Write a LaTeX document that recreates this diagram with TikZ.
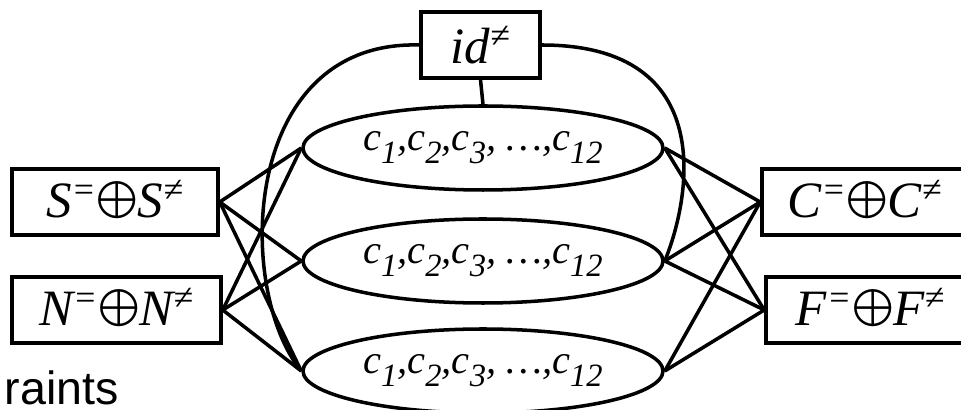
\documentclass[tikz,border=0pt]{standalone}
\usepackage{fontspec}
\setmainfont{Liberation Serif}
\newfontfamily\labelsans{Liberation Sans}
\usepackage{tikz}
\usetikzlibrary{shapes,positioning,calc}

% subscript of the c variables
\newcommand{\csub}[1]{c\raisebox{-0.32em}{\fontsize{18.5pt}{18.5pt}\selectfont #1}}
% large circled plus between the two parts
\newcommand{\dsum}{\raisebox{-0.12em}{\resizebox{!}{0.82em}{$\bigoplus$}}}

\begin{document}
\begin{tikzpicture}[
    setbox/.style={rectangle, draw, line width=2pt, inner sep=0pt, minimum height=1.32cm, font=\fontsize{29pt}{30pt}\selectfont\itshape},
    clist/.style={ellipse, draw, line width=2pt, inner sep=0pt, minimum width=7.2cm, minimum height=1.68cm, font=\fontsize{23pt}{24pt}\selectfont\itshape},
    link/.style={line width=2pt}
]
\useasboundingbox (0,0) rectangle (19.22,8.2);

% Id box
\node[setbox, minimum width=2.38cm] (idbox) at (9.61, 7.30) {id\textsuperscript{≠}};

% Ellipses
\node[clist] (ellTop) at (9.66, 5.24) {\csub{1},\csub{2},\csub{3}, …,\csub{12}};
\node[clist] (ellMid) at (9.66, 2.98) {\csub{1},\csub{2},\csub{3}, …,\csub{12}};
\node[clist] (ellBot) at (9.66, 0.78) {\csub{1},\csub{2},\csub{3}, …,\csub{12}};

% Left boxes
\node[setbox, minimum width=4.12cm] (sBox) at (2.30, 4.16) {S\textsuperscript{=}\dsum S\textsuperscript{≠}};
\node[setbox, minimum width=4.18cm] (nBox) at (2.33, 2.00) {N\textsuperscript{=}\dsum N\textsuperscript{≠}};

% Right boxes
\node[setbox, minimum width=4.12cm] (cBox) at (17.30, 4.16) {C\textsuperscript{=}\dsum C\textsuperscript{≠}};
\node[setbox, minimum width=4.18cm] (fBox) at (17.41, 2.00) {F\textsuperscript{=}\dsum F\textsuperscript{≠}};

% Cut-off caption
\node[anchor=base east, inner sep=0pt, font=\labelsans\fontsize{26.5pt}{27pt}\selectfont] (lblRaints) at (2.38, 0.10) {raints};

% Id links
\draw[link] (idbox.south) -- (ellTop.north);
\draw[link] (idbox.west) .. controls (4.8, 7.4) and (4.7, 2.4) .. (ellBot.west);
\draw[link] (idbox.east) .. controls (14.4, 7.3) and (13.8, 4.2) .. (ellMid.east);

% Left links
\draw[link] (sBox.east) -- (ellTop.west);
\draw[link] (sBox.east) -- (ellMid.west);
\draw[link] (sBox.east) -- (ellBot.west);
\draw[link] (nBox.east) -- (ellTop.west);
\draw[link] (nBox.east) -- (ellMid.west);
\draw[link] (nBox.east) -- (ellBot.west);

% Right links
\draw[link] (ellTop.east) -- (cBox.west);
\draw[link] (ellMid.east) -- (cBox.west);
\draw[link] (ellBot.east) -- (cBox.west);
\draw[link] (ellTop.east) -- (fBox.west);
\draw[link] (ellMid.east) -- (fBox.west);
\draw[link] (ellBot.east) -- (fBox.west);

\end{tikzpicture}
\end{document}
